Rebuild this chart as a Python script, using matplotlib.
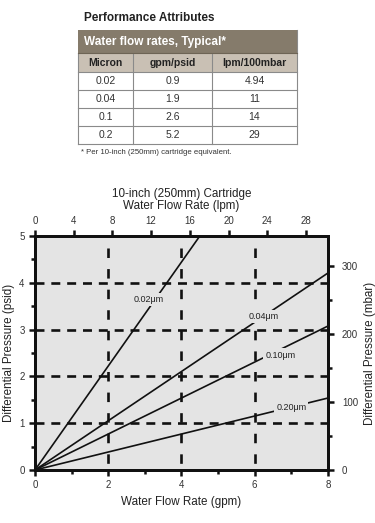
import matplotlib.pyplot as plt
from matplotlib.patches import Rectangle
from matplotlib.ticker import MultipleLocator

plt.rcParams['font.family'] = ['Liberation Sans', 'DejaVu Sans']

# table data
micron = ["0.02", "0.04", "0.1", "0.2"]
gpm_psid = [0.9, 1.9, 2.6, 5.2]
lpm_mbar = ["4.94", "11", "14", "29"]
col_heads = ["Micron", "gpm/psid", "lpm/100mbar"]
curve_labels = ["0.02\u03bcm", "0.04\u03bcm", "0.10\u03bcm", "0.20\u03bcm"]

# label placement (gpm, psi offset from the line)
label_gpm = [3.1, 6.25, 6.7, 7.0]
label_dy = [0.2, 0.0, -0.12, 0.0]

GPM_TO_LPM = 3.785
PSI_TO_MBAR = 68.95

fig = plt.figure(figsize=(3.75, 5.23), dpi=100)

# ---- table, drawn in pixel coords ----
tab = fig.add_axes([0, 0, 1, 1])
tab.set_xlim(0, 375)
tab.set_ylim(523, 0)
tab.axis('off')
tab.text(84, 18, "Performance Attributes", fontsize=8.5, fontweight='bold',
         color='#222222', va='center')
cols = [78, 133, 212, 297]
tab.add_patch(Rectangle((78, 30), 219, 23, facecolor='#857b6b', edgecolor='none'))
tab.text(84, 41.5, "Water flow rates, Typical*", fontsize=8.5, fontweight='bold',
         color='white', va='center')
tab.add_patch(Rectangle((78, 53), 219, 19, facecolor='#c9c0b4', edgecolor='none'))
rows_y = [72, 90, 108, 126, 144]
for i in range(3):
    tab.text((cols[i] + cols[i + 1]) / 2, 62.5, col_heads[i], fontsize=7.5,
             fontweight='bold', color='#222222', ha='center', va='center')
for r in range(4):
    vals = [micron[r], f"{gpm_psid[r]}", lpm_mbar[r]]
    yc = (rows_y[r] + rows_y[r + 1]) / 2
    for i in range(3):
        tab.text((cols[i] + cols[i + 1]) / 2, yc, vals[i], fontsize=7.5,
                 color='#333333', ha='center', va='center')
for y in rows_y[1:]:
    tab.plot([78, 297], [y, y], color='#8a8a8a', lw=0.8)
tab.plot([78, 78], [53, 144], color='#8a8a8a', lw=0.8)
tab.plot([297, 297], [30, 144], color='#8a8a8a', lw=0.8)
for x in cols[1:3]:
    tab.plot([x, x], [53, 144], color='#8a8a8a', lw=0.8)
tab.plot([78, 297], [53, 53], color='#6d6455', lw=0.8)
tab.plot([78, 297], [72, 72], color='#8a8a8a', lw=0.8)
tab.text(81, 152, "* Per 10-inch (250mm) cartridge equivalent.", fontsize=5.6,
         color='#333333', va='center')

# ---- chart ----
ax = fig.add_axes([0.0933, 0.1013, 0.7813, 0.4474])
ax.set_facecolor('#e4e4e4')
ax.set_xlim(0, 8)
ax.set_ylim(0, 5)

dash_kw = dict(color='#111111', lw=1.9, dashes=(3.4, 2.6))
for y in [1, 2, 3, 4]:
    ax.plot([0, 8], [y, y], **dash_kw)
vdash_kw = dict(color='#111111', lw=1.9, dashes=(3.6, 4.2))
for x in [2, 4, 6]:
    ax.plot([x, x], [4.75, 0], **vdash_kw)

for rate, lab, lx, dy in zip(gpm_psid, curve_labels, label_gpm, label_dy):
    ax.plot([0, 8], [0, 8 / rate], color='#111111', lw=1.2)
    ax.text(lx, lx / rate + dy, lab, fontsize=6.5, color='#222222', ha='center',
            va='center', bbox=dict(facecolor='#e4e4e4', edgecolor='none', pad=1.5))

ax.xaxis.set_major_locator(MultipleLocator(2))
ax.xaxis.set_minor_locator(MultipleLocator(1))
ax.yaxis.set_major_locator(MultipleLocator(1))
ax.yaxis.set_minor_locator(MultipleLocator(0.5))
ax.tick_params(which='both', direction='out', width=1.8, color='#111111',
               labelsize=7, labelcolor='#333333')
ax.tick_params(which='major', length=4)
ax.tick_params(which='minor', length=3)
ax.set_xlabel("Water Flow Rate (gpm)", fontsize=8.4, color='#222222', labelpad=4)
ax.set_ylabel("Differential Pressure (psid)", fontsize=8.4, color='#222222', labelpad=3)

ax_t = ax.twiny()
ax_t.set_xlim(0, 8 * GPM_TO_LPM)
ax_t.xaxis.set_major_locator(MultipleLocator(4))
ax_t.tick_params(direction='out', length=4, width=1.8, color='#111111',
                 labelsize=7, labelcolor='#333333')
ax_t.set_xlabel("10-inch (250mm) Cartridge\nWater Flow Rate (lpm)", fontsize=8.4,
                color='#222222', labelpad=5, linespacing=1.0)

ax_r = ax.twinx()
ax_r.set_ylim(0, 5 * PSI_TO_MBAR)
ax_r.yaxis.set_major_locator(MultipleLocator(100))
ax_r.yaxis.set_minor_locator(MultipleLocator(50))
ax_r.tick_params(which='both', direction='out', width=1.8, color='#111111',
                 labelsize=7, labelcolor='#333333')
ax_r.tick_params(which='major', length=4, pad=6)
ax_r.tick_params(which='minor', length=3)
ax_r.set_ylabel("Differential Pressure (mbar)", fontsize=8.4, color='#222222', labelpad=4)
for a in (ax, ax_t, ax_r):
    for s in a.spines.values():
        s.set_linewidth(2)
        s.set_color('#111111')

fig.savefig("out.png", dpi=100)
